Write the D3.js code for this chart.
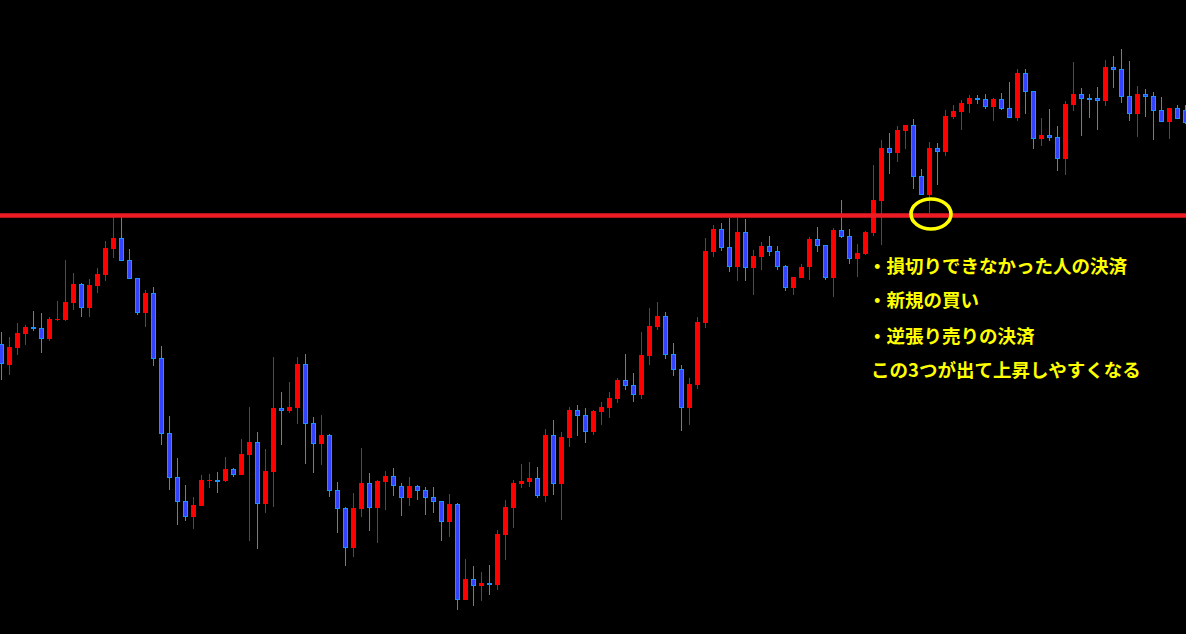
<!DOCTYPE html>
<html>
<head>
<meta charset="utf-8">
<script src="https://cdn.jsdelivr.net/npm/d3@7"></script>
<style>
  html, body { margin: 0; padding: 0; background: #000; overflow: hidden; }
  svg { display: block; }
</style>
</head>
<body>
<svg id="chart" width="1186" height="634"></svg>
<script>
// ---- DATA (price levels, one entry per bar) ----
const opens = [
  290,269,286,300,307,306,295,314,314,331,
  350,326,348,359,385,396,374,356,321,341,
  276,201,157,133,117,128,153,154,153,165,
  159,179,192,130,162,226,223,226,270,211,
  190,199,144,126,86,125,151,126,152,158,
  148,136,148,144,137,133,112,130,34,55,
  48,51,49,99,126,150,152,156,138,199,
  150,196,224,219,202,222,226,235,254,249,
  239,278,307,318,280,265,226,249,311,382,
  405,387,367,402,366,377,388,383,368,346,
  356,367,395,389,356,404,398,375,380,401,
  433,486,481,503,509,458,439,486,482,517,
  522,530,536,535,527,535,526,516,561,543,
  495,499,497,475,529,540,536,536,533,567,
  565,538,520,540,538,524,512,526,524
];
const highs = [
  302,297,311,309,323,321,317,333,374,361,
  351,355,366,393,418,418,385,356,344,347,
  288,218,176,149,137,159,160,162,177,166,
  195,227,202,185,277,242,252,277,280,217,
  219,200,152,127,141,186,161,154,163,166,
  151,157,149,147,147,133,140,131,75,68,
  62,69,104,134,154,170,172,167,205,214,
  202,227,229,226,224,232,242,256,280,261,
  302,326,332,322,291,269,256,317,396,409,
  411,416,416,415,384,392,398,388,369,357,
  370,397,407,389,406,434,405,390,403,469,
  494,501,508,509,515,465,492,491,524,529,
  534,539,539,540,536,541,552,565,565,543,
  516,525,508,533,572,546,540,547,574,578,
  585,573,548,545,542,537,526,529,529
];
const lows = [
  254,259,279,289,303,281,293,313,313,324,
  317,317,341,353,376,373,355,319,307,268,
  189,144,109,113,105,128,146,141,152,157,
  159,93,85,121,127,189,221,210,170,161,
  169,137,101,68,77,117,103,91,124,138,
  118,128,134,119,121,93,97,24,34,28,
  33,39,44,74,106,146,147,136,132,139,
  114,187,198,191,199,209,216,231,244,232,
  235,269,304,275,258,203,209,245,306,377,
  383,362,353,353,339,364,378,364,343,339,
  356,354,382,354,337,396,370,357,379,398,
  389,460,472,485,445,439,421,449,478,515,
  504,521,530,525,513,524,516,513,520,485,
  488,493,463,459,523,498,516,504,528,546,
  531,513,497,517,494,512,495,515,510
];
const closes = [
  270,287,301,307,305,295,315,315,332,350,
  326,349,360,386,396,373,355,321,341,275,
  200,156,132,117,129,154,154,153,165,159,
  180,192,130,163,226,223,227,270,210,190,
  199,143,125,86,126,151,126,153,158,148,
  136,148,143,136,132,112,130,34,55,48,
  51,49,100,127,151,153,156,138,199,150,
  197,224,218,202,223,227,236,254,248,239,
  279,308,318,279,264,226,250,312,383,405,
  386,367,402,366,378,388,382,367,346,357,
  367,395,388,356,404,397,375,381,402,434,
  486,481,504,509,457,439,486,482,518,523,
  531,536,534,527,535,525,516,561,542,495,
  499,496,475,530,540,535,535,533,567,564,
  537,520,540,537,523,512,526,515,511
];
const resistanceLevel = 418.5;   // horizontal red line
const markedBar = 116;           // bar circled in yellow
const noteLines = [
  "・損切りできなかった人の決済",
  "・新規の買い",
  "・逆張り売りの決済",
  "この3つが出て上昇しやすくなる"
];

// ---- CHART ----
const W = 1186, H = 634;
const svg = d3.select("#chart");
svg.append("rect").attr("width", W).attr("height", H).attr("fill", "#000");

const bars = opens.map((o, i) => ({ i, o, h: highs[i], l: lows[i], c: closes[i] }));

const x = d3.scaleBand()
  .domain(bars.map(d => d.i))
  .range([-2.5, -2.5 + 8 * bars.length])
  .padding(0);
const y = d3.scaleLinear().domain([0, 634]).range([634, 0]);

const cx = i => x(i) + x.bandwidth() / 2;
const UP = "#ff0000", DOWN_FILL = "#3344ff", DOWN_EDGE = "#1e90ff";
const bodyW = 5;

const g = svg.append("g").attr("shape-rendering", "crispEdges");

// wicks
g.selectAll("line.wick").data(bars).join("line")
  .attr("class", "wick")
  .attr("x1", d => cx(d.i)).attr("x2", d => cx(d.i))
  .attr("y1", d => Math.round(y(d.h)))
  .attr("y2", d => Math.round(y(d.l)))
  .attr("stroke", d => d.c >= d.o ? UP : DOWN_EDGE)
  .attr("stroke-width", 1);

// bodies
const upBars = bars.filter(d => d.c >= d.o);
const downBars = bars.filter(d => d.c < d.o);

g.selectAll("rect.up").data(upBars).join("rect")
  .attr("class", "up")
  .attr("x", d => cx(d.i) - bodyW / 2)
  .attr("width", bodyW)
  .attr("y", d => Math.round(y(d.c)))
  .attr("height", d => Math.max(1, Math.round(y(d.o)) - Math.round(y(d.c))))
  .attr("fill", UP);

g.selectAll("rect.down").data(downBars).join("rect")
  .attr("class", "down")
  .attr("x", d => cx(d.i) - bodyW / 2 + 0.5)
  .attr("width", bodyW - 1)
  .attr("y", d => Math.round(y(d.o)) + 0.5)
  .attr("height", d => Math.max(1, Math.round(y(d.c)) - Math.round(y(d.o)) - 1))
  .attr("fill", DOWN_FILL)
  .attr("stroke", DOWN_EDGE)
  .attr("stroke-width", 1);

// resistance line
svg.append("line")
  .attr("x1", 0).attr("x2", W)
  .attr("y1", y(resistanceLevel)).attr("y2", y(resistanceLevel))
  .attr("stroke", "#ed1c24")
  .attr("stroke-width", 4.4);

// yellow circle on the breakout bar
svg.append("ellipse")
  .attr("cx", cx(markedBar) + 1.5)
  .attr("cy", y(resistanceLevel) - 1.5)
  .attr("rx", 20)
  .attr("ry", 15)
  .attr("fill", "none")
  .attr("stroke", "#ffff00")
  .attr("stroke-width", 3.6);

// annotation text
const lineY = [264.5, 299, 334.5, 369];
svg.selectAll("text.note").data(noteLines).join("text")
  .attr("class", "note")
  .attr("x", (d, i) => i === 3 ? 871 : 868)
  .attr("y", (d, i) => lineY[i])
  .attr("dominant-baseline", "central")
  .attr("fill", "#ffff00")
  .attr("font-family", "'Noto Sans CJK JP', 'Noto Sans CJK SC', sans-serif")
  .attr("font-weight", 700)
  .attr("font-size", 18.5)
  .text(d => d);
</script>
</body>
</html>
